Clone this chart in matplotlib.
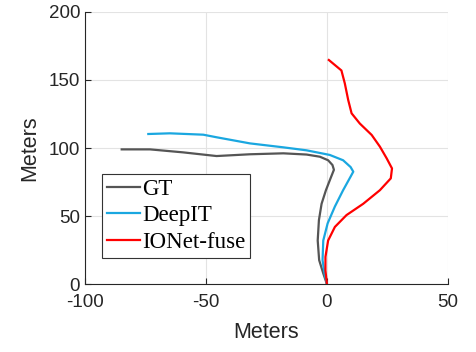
import matplotlib
matplotlib.use("Agg")
import matplotlib.pyplot as plt

# trajectories (meters)
gt_x = [0, -1.5, -3.2, -3.8, -3.3, -2.2, -0.4, 1.5, 2.9, 2.3, 0.5, -2.9, -8.4,
        -18, -31.8, -45.6, -59.4, -73.1, -84.8]
gt_y = [0, 7.8, 17.6, 32, 47, 59, 69, 77.7, 84, 87.5, 91, 93.6, 95.2,
        96.1, 95.4, 94.1, 96.8, 99, 99]

deepit_x = [0, -1.0, -1.8, -1.5, 0.3, 3.3, 6.7, 9.8, 10.9, 9.8, 6.7, 1.2, -8.4,
            -18, -31.8, -45.6, -51.1, -64.9, -73.8]
deepit_y = [0, 8, 17.6, 32, 44.6, 57, 69, 79, 82.6, 86, 91, 94.9, 98.3,
            100.5, 103.4, 107.9, 109.8, 110.8, 110.3]

ionet_x = [0, -0.6, -0.6, 0.5, 3.3, 8.1, 15, 21.9, 26.4, 26.9, 24.7, 21.9, 18.5,
           13.6, 10.2, 8.8, 7.4, 6, 0.8]
ionet_y = [0, 10, 20, 32, 42, 50.7, 59, 69, 77.7, 85, 92.4, 101, 109.6,
           118, 125.5, 135.3, 147.5, 157, 164.7]

x_ticks = [-100, -50, 0, 50]
y_ticks = [0, 50, 100, 150, 200]

plt.rcParams["font.family"] = ["Liberation Sans", "DejaVu Sans"]
plt.rcParams["axes.unicode_minus"] = False

fig = plt.figure(figsize=(4.77, 3.52), dpi=100)
ax = fig.add_axes([0.178, 0.193, 0.761, 0.773])

ax.plot(gt_x, gt_y, color="#555555", lw=1.6, label="GT")
ax.plot(deepit_x, deepit_y, color="#1aa7e0", lw=1.6, label="DeepIT")
ax.plot(ionet_x, ionet_y, color="#ff0000", lw=1.6, label="IONet-fuse")

ax.set_xlim(-100, 50)
ax.set_ylim(0, 200)
ax.set_xticks(x_ticks)
ax.set_yticks(y_ticks)
ax.grid(True, color="#e3e3e3", lw=0.8)
ax.set_axisbelow(True)
for s in ["top", "right"]:
    ax.spines[s].set_visible(False)
for s in ["left", "bottom"]:
    ax.spines[s].set_color("#262626")
ax.tick_params(direction="in", length=4, labelsize=13.5, colors="#262626")
ax.tick_params(axis="x", pad=7)

ax.set_xlabel("Meters", fontsize=15.5, color="#262626", labelpad=8)
ax.set_ylabel("Meters", fontsize=15.5, color="#262626", labelpad=6)

leg = ax.legend(loc="lower left", bbox_to_anchor=(0.047, 0.095),
                prop={"family": "Liberation Serif", "size": 16.5},
                handlelength=1.45, handletextpad=0.08, borderpad=0.22,
                labelspacing=0.25, borderaxespad=0, fancybox=False,
                framealpha=1, edgecolor="#333333")
leg.get_frame().set_linewidth(0.8)

fig.savefig("out.png", dpi=100)
